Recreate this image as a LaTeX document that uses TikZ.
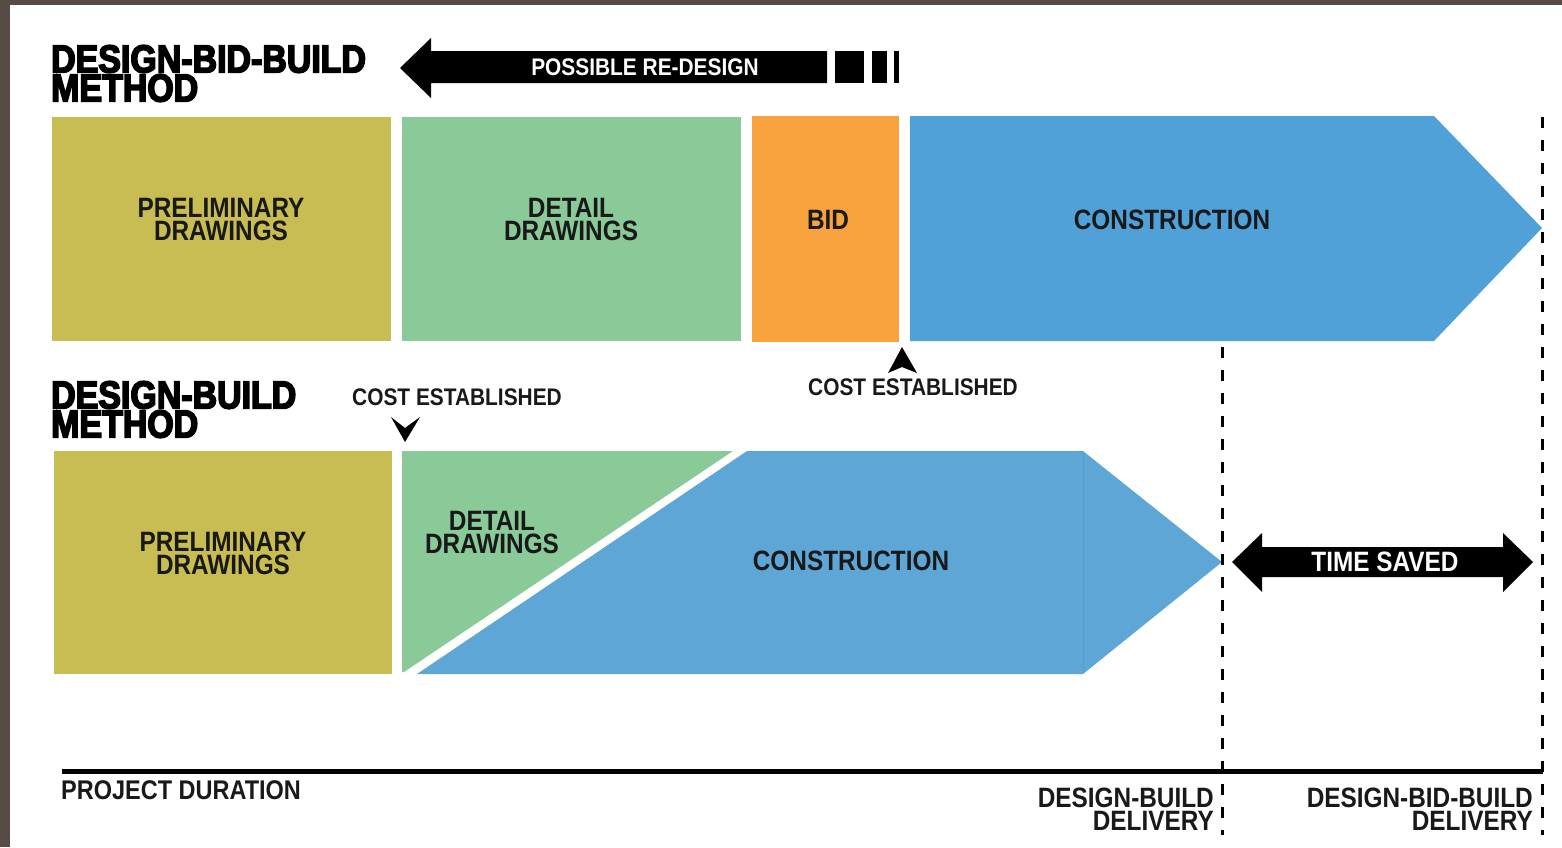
\documentclass[tikz,border=0pt]{standalone}
\usepackage{fontspec}
\setmainfont{Liberation Sans}[FakeStretch=0.87]
\newcommand\heavytext[1]{\special{pdf:literal direct 2 Tr 1.6 w}#1\special{pdf:literal direct 0 Tr 1 w}}
\definecolor{frame}{RGB}{87,75,70}
\definecolor{colive}{RGB}{200,189,82}
\definecolor{cgreen}{RGB}{138,201,152}
\definecolor{corange}{RGB}{249,163,62}
\definecolor{cblue}{RGB}{79,161,216}
\definecolor{cbluetwo}{RGB}{94,166,214}
\definecolor{cseam}{RGB}{84,158,208}
\definecolor{txt}{RGB}{25,25,25}
\tikzset{
  lbl/.style={font=\bfseries\fontsize{28}{23}\selectfont, text=txt, align=center, inner sep=0pt},
  smalllbl/.style={font=\bfseries\fontsize{24}{20}\selectfont, text=txt, inner sep=0pt},
  whitelbl/.style={font=\bfseries\fontsize{24}{20}\selectfont, text=white, inner sep=0pt},
  whitebig/.style={font=\bfseries\fontsize{28}{23}\selectfont, text=white, inner sep=0pt},
  titlelbl/.style={font=\bfseries\fontsize{39}{29}\selectfont, text=black, align=left, inner sep=0pt},
  dashline/.style={draw=black, line width=3pt, dash pattern=on 11pt off 12pt},
}
\begin{document}
\begin{tikzpicture}[x=1pt,y=-1pt]
\useasboundingbox (0,0) rectangle (1562,847);
\fill[white] (0,0) rectangle (1562,847);
\fill[frame] (0,0) rectangle (10,847);
\fill[frame] (0,0) rectangle (1562,5);

% titles
\node[titlelbl, anchor=north west] (t1) at (51,45) {\heavytext{DESIGN-BID-BUILD}\\\heavytext{METHOD}};
\node[titlelbl, anchor=north west] (t2) at (51,381) {\heavytext{DESIGN-BUILD}\\\heavytext{METHOD}};

% re-design arrow
\fill[black] (400,68) -- (431,38) -- (431,51) -- (827,51) -- (827,83) -- (431,83) -- (431,98) -- cycle;
\fill[black] (835,51) rectangle (864,83);
\fill[black] (872,51) rectangle (887,83);
\fill[black] (894,51) rectangle (899,83);
\node[whitelbl] (redesign) at (645,67) {POSSIBLE RE-DESIGN};

% top row
\fill[colive] (52,117) rectangle (391,341);
\fill[cgreen] (402,117) rectangle (741,341);
\fill[corange] (752,116) rectangle (899,342);
\fill[cblue] (910,116) -- (1434,116) -- (1542,228) -- (1434,341) -- (910,341) -- cycle;
\node[lbl] (p1) at (221,219.5) {PRELIMINARY\\DRAWINGS};
\node[lbl] (d1) at (571,219.5) {DETAIL\\DRAWINGS};
\node[lbl] (bid) at (828,220) {BID};
\node[lbl] (c1) at (1172,220) {CONSTRUCTION};

% cost established
\fill[black] (902,347) -- (917,373) -- (902,367) -- (888,373) -- cycle;
\node[smalllbl] (cost1) at (913,387) {COST ESTABLISHED};
\node[smalllbl] (cost2) at (457,397) {COST ESTABLISHED};
\fill[black] (405,442) -- (391,417) -- (405,428) -- (420,417) -- cycle;

% bottom row
\fill[colive] (54,451) rectangle (392,674);
\fill[cgreen] (402,451) -- (733,451) -- (404,672) -- (402,672) -- cycle;
\fill[cbluetwo] (747,451) -- (1083,451) -- (1222,562) -- (1083,674) -- (417,674) -- cycle;
\draw[cseam, line width=1pt] (1083,452) -- (1083,673);
\node[lbl] (p2) at (223,553.5) {PRELIMINARY\\DRAWINGS};
\node[lbl] (d2) at (492,532.5) {DETAIL\\DRAWINGS};
\node[lbl] (c2) at (851,561) {CONSTRUCTION};

% dashed lines
\draw[dashline] (1222,347) -- (1222,835);
\draw[dashline] (1542,117) -- (1542,835);

% time saved
\fill[black] (1232,562) -- (1262,533) -- (1262,547) -- (1503,547) -- (1503,533) -- (1533,562) -- (1503,592) -- (1503,577) -- (1262,577) -- (1262,592) -- cycle;
\node[whitebig] (saved) at (1385,562) {TIME SAVED};

% axis
\draw[black, line width=5pt] (62,771) -- (1543,771);
\node[lbl, font=\bfseries\fontsize{27}{23}\selectfont, anchor=west] (dur) at (61,790) {PROJECT DURATION};
\node[lbl, align=right, anchor=east] (dbd) at (1214,809.5) {DESIGN-BUILD\\DELIVERY};
\node[lbl, align=right, anchor=east] (dbbd) at (1533,809.5) {DESIGN-BID-BUILD\\DELIVERY};
\end{tikzpicture}
\end{document}
